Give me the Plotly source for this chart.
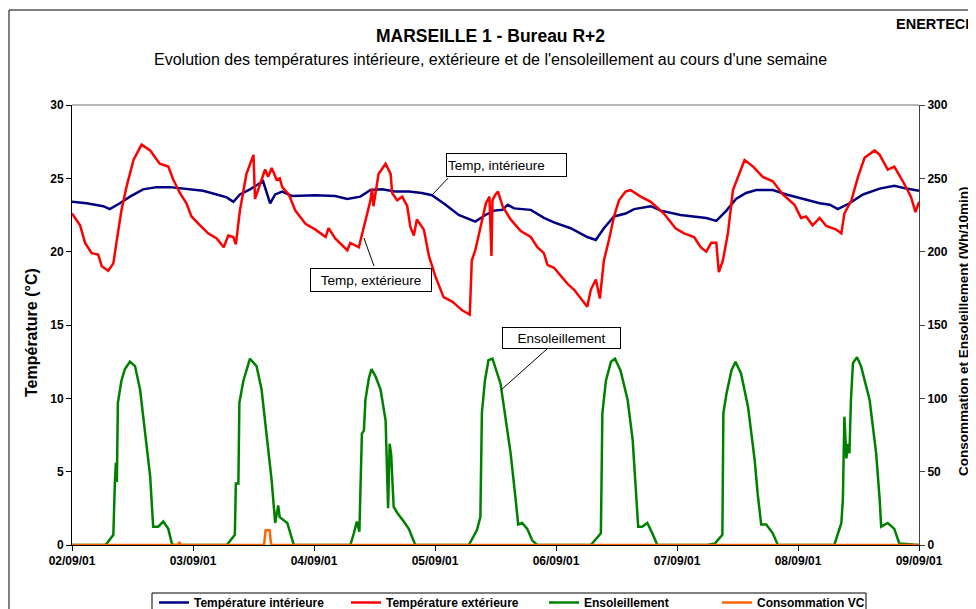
import plotly.graph_objects as go

# ---------------- data (hours since 02/09/01 00:00) ----------------
day_hours = [0, 24, 48, 72, 96, 120, 144, 168]
day_labels = ["02/09/01", "03/09/01", "04/09/01", "05/09/01",
              "06/09/01", "07/09/01", "08/09/01", "09/09/01"]

t_int = [0, 2.9, 6.2, 7.5, 9.5, 11.5, 14.1, 16.8, 19.4, 22.7, 26.0, 28.7, 30.7, 32.0,
         33.3, 35.3, 37.9, 39.3, 40.3,
         41.7, 43.6, 48.3, 52.2, 54.6, 57.2, 59.2, 61.5, 64.1, 66.8, 69.4, 71.4, 74.1,
         76.7, 80.0, 82.0,
         83.7, 85.4, 86.4, 87.7, 91.0, 93.6, 95.6, 98.9, 102.2, 103.9, 105.5, 107.5,
         109.8, 111.5, 114.8, 116.8, 120.7, 124.0,
         125.8, 127.8, 129.8, 131.7, 133.7, 135.7, 139.0, 141.7, 145.0, 148.3, 150.3,
         151.9, 154.2, 156.9, 160.2, 163.1, 165.5, 168.0]
temp_int = [23.4, 23.3, 23.1, 22.9, 23.3, 23.75, 24.25, 24.4, 24.4, 24.3, 24.15, 23.9, 23.7, 23.4,
            23.9, 24.25, 24.8, 23.3, 23.9,
            24.1, 23.8, 23.85, 23.8, 23.6, 23.75, 24.2, 24.25, 24.1, 24.1, 24.0, 23.85, 23.2,
            22.5, 22.05, 22.5,
            22.8, 22.85, 23.2, 22.95, 22.85, 22.3, 22.0, 21.6, 21.0, 20.8, 21.6, 22.4,
            22.6, 22.9, 23.1, 22.8, 22.5, 22.4,
            22.3, 22.1, 22.8, 23.6, 24.0, 24.2, 24.2, 23.9, 23.6, 23.3, 23.2,
            22.9, 23.3, 23.9, 24.3, 24.5, 24.3, 24.15]

t_ext = [0, 1.6, 2.6, 3.9, 5.2, 5.9, 7.2, 8.2, 8.9, 9.8, 10.8, 12.2, 13.8, 15.5, 17.4,
         19.1, 20.1, 21.4, 22.7, 23.7, 25.4, 27.0, 28.7, 30.1, 31.0, 32.0, 32.5, 33.3,
         34.6, 36.0, 36.3, 37.6, 38.3, 38.9, 39.6, 40.6, 41.2,
         41.7, 43.0, 44.3, 46.3, 48.3, 50.3, 50.9, 52.2, 54.6, 55.2, 56.9, 57.9, 59.2,
         59.5, 59.8, 60.8, 62.2, 63.2, 63.5, 64.5, 65.5, 66.5, 67.1, 67.8, 68.4, 69.8,
         70.8, 72.1, 73.7, 75.4, 77.4, 78.9, 79.3, 80.0, 81.0, 82.1, 82.8, 83.2, 83.4,
         84.0, 84.5, 85.4, 87.0, 89.0, 91.0, 92.3, 93.6, 94.3, 95.6, 96.9, 98.3, 99.6,
         100.9, 102.2, 102.9, 103.9, 104.7, 105.5, 106.5, 107.5, 108.5, 109.8, 110.8,
         112.8, 114.8, 117.4, 119.7, 121.4, 123.4, 124.7,
         125.8, 126.8, 127.8, 128.3, 129.1, 130.1, 131.1, 132.4, 133.4, 135.1, 137.0,
         139.0, 141.0, 143.3, 144.6, 145.6, 146.9, 148.3, 149.6, 151.6, 152.6, 153.2,
         154.6, 155.9, 157.2, 159.2, 160.2, 161.8, 163.1, 164.8, 166.4, 167.3, 168.0]
temp_ext = [22.6, 21.8, 20.6, 19.9, 19.8, 19.0, 18.7, 19.2, 20.8, 22.8, 24.4, 26.25, 27.3, 26.9, 26.0,
            25.8, 24.9, 24.0, 23.3, 22.4, 21.8, 21.25, 20.9, 20.3, 21.1, 21.0, 20.5, 22.8,
            25.3, 26.6, 23.6, 24.9, 25.6, 25.1, 25.7, 24.9, 25.0,
            24.4, 23.9, 22.8, 21.9, 21.5, 21.0, 21.6, 20.9, 20.1, 20.6, 20.3, 21.7, 23.5,
            24.3, 23.1, 25.3, 26.0, 25.3, 24.0, 23.5, 23.75, 23.1, 21.7, 21.1, 22.2, 21.5,
            19.7, 18.3, 16.9, 16.6, 16.0, 15.7, 19.4, 20.1, 21.7, 23.3, 23.75, 19.7, 23.5,
            23.9, 24.1, 23.1, 22.2, 21.4, 21.0, 20.3, 19.9, 19.1, 18.9, 18.4, 17.8, 17.4,
            16.8, 16.25, 17.4, 18.1, 16.8, 19.4, 20.8, 22.4, 23.5, 24.1, 24.2,
            23.75, 23.4, 22.6, 21.6, 21.25, 21.0, 20.3,
            20.0, 20.6, 20.6, 18.6, 19.4, 21.25, 24.2, 25.3, 26.25, 25.8, 25.1,
            24.8, 23.9, 23.2, 22.3, 22.4, 21.8, 22.3, 21.75, 21.5, 21.25, 22.6,
            23.5, 25.1, 26.4, 26.9, 26.6, 25.6, 25.8, 24.8, 23.75, 22.7, 23.4]

t_sun = [0, 6.5, 6.9, 8.2, 8.5, 8.7, 8.9, 9.1, 9.8, 10.5, 11.5, 12.5, 13.5, 14.5, 15.5,
         16.1, 17.1, 18.1, 19.1, 19.8, 20.1,
         30.7, 32.3, 32.5, 33.0, 33.2, 34.0, 35.3, 36.6, 37.6, 38.6, 39.6, 40.3, 40.9,
         41.2, 42.7, 44.0,
         55.2, 55.9, 56.5, 57.0, 57.5, 57.9, 58.2, 58.9, 59.4, 60.2, 61.2, 62.2, 62.7,
         63.0, 63.3, 63.8, 64.5, 65.8, 66.8, 68.1,
         78.7, 80.3, 81.0, 81.3, 81.9, 82.6, 83.4, 85.0, 86.0, 87.0, 88.0, 88.5, 89.3,
         90.3, 91.3, 92.3,
         102.9, 104.9, 105.2, 105.9, 106.9, 107.7, 108.8, 110.2, 111.2, 111.8, 112.3,
         113.1, 114.1, 115.1, 116.1,
         126.0, 127.5, 129.0, 129.2, 129.8, 130.8, 131.6, 132.7, 134.1, 135.4, 136.0,
         136.7, 137.7, 139.0, 140.0,
         151.2, 152.6, 152.9, 153.2, 153.6, 153.9, 154.2, 154.5, 154.9, 155.7, 156.5,
         158.2, 159.5, 160.2, 160.5, 161.8, 163.1, 164.1, 168.0]
sun = [0, 0, 1, 7, 42, 56, 43, 97, 112, 120, 125, 122, 106, 78, 47,
       12.5, 12.5, 16, 11, 1, 0,
       0, 7, 42, 42, 97, 112, 127, 122, 106, 76, 44, 15, 27,
       19, 15, 0,
       0, 8, 16, 9, 76, 78, 99, 114, 120, 115, 106, 85, 25,
       69, 62, 26, 22, 16, 11, 0,
       0, 10, 19, 90, 112, 126, 127, 110, 87.5, 62.5, 31, 14, 15,
       11, 3, 0,
       0, 8, 90, 112, 125, 127, 119, 99, 72, 42, 12.5,
       12.5, 15, 8, 0,
       0, 1, 7, 90, 103, 119, 125, 117, 94, 58, 35,
       14, 14, 8, 0,
       0, 15, 31, 87.5, 59, 69, 62.5, 99, 124, 128, 122,
       99, 62.5, 31, 12.5, 15, 11, 1, 0]

t_vc = [0, 21.0, 21.3, 21.6, 38.1, 38.4, 39.2, 39.5, 168.0]
vc = [0, 0, 2, 0, 0, 10, 10, 0, 0]

# ---------------- figure ----------------
FONT = "Arial, 'Liberation Sans', sans-serif"
# the page body adds an 8 px offset; the figure is sized so the visible window matches
OFF = 8

fig = go.Figure()
fig.add_trace(go.Scatter(x=t_int, y=temp_int, name="Température intérieure", mode="lines",
                         line=dict(color="#000080", width=2.5), legendwidth=147))
fig.add_trace(go.Scatter(x=t_ext, y=temp_ext, name="Température extérieure", mode="lines",
                         line=dict(color="#FF0000", width=2.5), legendwidth=153))
fig.add_trace(go.Scatter(x=t_sun, y=sun, name="Ensoleillement", mode="lines", yaxis="y2",
                         line=dict(color="#008000", width=2.5), legendwidth=128))
fig.add_trace(go.Scatter(x=t_vc, y=vc, name="Consommation VC", mode="lines", yaxis="y2",
                         line=dict(color="#FF6600", width=2.5), legendwidth=110))

tickfont = dict(family=FONT, size=12, color="black", weight="bold")


def px_x(x):
    return (x - 72) / 847.0


def px_y(y):
    return (545 - y) / 440.0


fig.update_layout(
    width=976 - OFF, height=609 - OFF, autosize=False,
    margin=dict(l=72 - OFF, r=57, t=105 - OFF, b=64, pad=0, autoexpand=False),
    paper_bgcolor="white", plot_bgcolor="white",
    font=dict(family=FONT, color="black"),
    showlegend=True,
    xaxis=dict(range=[0, 168], tickvals=day_hours, ticktext=day_labels,
               ticks="outside", ticklen=5, tickcolor="black", showline=True,
               linecolor="black", linewidth=1, showgrid=False, zeroline=False,
               tickfont=tickfont, automargin=False),
    yaxis=dict(range=[0, 30], dtick=5, ticks="outside", ticklen=5, tickcolor="black",
               showline=True, linecolor="black", linewidth=1, showgrid=False,
               zeroline=False, tickfont=tickfont, automargin=False),
    yaxis2=dict(range=[0, 300], dtick=50, overlaying="y", side="right", ticks="outside",
                ticklen=5, tickcolor="#404040", showline=True, linecolor="#404040",
                linewidth=1, showgrid=False, zeroline=False, tickfont=tickfont,
                automargin=False),
    legend=dict(orientation="h", x=px_x(154), xanchor="left", y=px_y(588),
                yanchor="top", borderwidth=0, bgcolor="rgba(0,0,0,0)",
                font=dict(family=FONT, size=12, color="black", weight="bold"),
                itemwidth=30),
)

ann = [
    dict(text="<b>MARSEILLE 1 - Bureau R+2</b>", x=px_x(490), y=px_y(36),
         font=dict(size=17.5)),
    dict(text="Evolution des températures intérieure, extérieure et de l'ensoleillement au cours d'une semaine",
         x=px_x(490), y=px_y(60), font=dict(size=16)),
    dict(text="<b>ENERTECH</b>", x=px_x(894), y=px_y(24), xanchor="left", font=dict(size=14.5)),
    dict(text="<b>Température (°C)</b>", x=px_x(31), y=px_y(333), textangle=-90,
         font=dict(size=16)),
    dict(text="<b>Consommation et Ensoleillement (Wh/10min)</b>", x=px_x(963), y=px_y(331),
         textangle=-90, font=dict(size=13.5)),
]
for a in ann:
    a.update(xref="paper", yref="paper", showarrow=False)
    a.setdefault("xanchor", "center")
    a.setdefault("yanchor", "middle")
    a["font"].update(family=FONT, color="black")

callouts = [
    dict(text="Temp, intérieure", x=74.2, y=26.72, width=117, height=20, align="left"),
    dict(text="Temp, extérieure", x=47.2, y=18.88, width=118, height=20, align="center"),
    dict(text="Ensoleillement", x=85.3, y=14.86, width=115, height=18, align="center"),
]
for c in callouts:
    c.update(xref="x", yref="y", xanchor="left", yanchor="top", showarrow=False,
             bordercolor="black", borderwidth=1, borderpad=1, bgcolor="white",
             font=dict(family=FONT, size=13.5, color="black"))
fig.update_layout(annotations=ann + callouts)

shapes = [
    # leader lines
    dict(type="line", xref="x", yref="y", x0=71.6, y0=23.93, x1=74.6, y1=25.02),
    dict(type="line", xref="x", yref="y", x0=57.9, y0=20.93, x1=59.9, y1=19.02),
    dict(type="line", xref="x", yref="y", x0=94.2, y0=13.36, x1=85.1, y1=10.57),
]
for s in shapes:
    s["line"] = dict(color="black", width=1)
shapes += [
    dict(type="line", xref="paper", yref="paper", x0=0, x1=1, y0=1, y1=1,
         line=dict(color="#A0A0A0", width=1.5)),
    dict(type="line", xref="paper", yref="paper", x0=px_x(9), x1=px_x(9),
         y0=px_y(10), y1=px_y(640), line=dict(color="black", width=1)),
    dict(type="line", xref="paper", yref="paper", x0=px_x(9), x1=px_x(1000),
         y0=px_y(10), y1=px_y(10), line=dict(color="black", width=1)),
    # legend frame
    dict(type="rect", xref="paper", yref="paper", x0=px_x(152), x1=px_x(866),
         y0=px_y(593), y1=px_y(640), line=dict(color="black", width=1),
         fillcolor="rgba(0,0,0,0)", layer="below"),
]
fig.update_layout(shapes=shapes)

fig.write_html("out.html")
